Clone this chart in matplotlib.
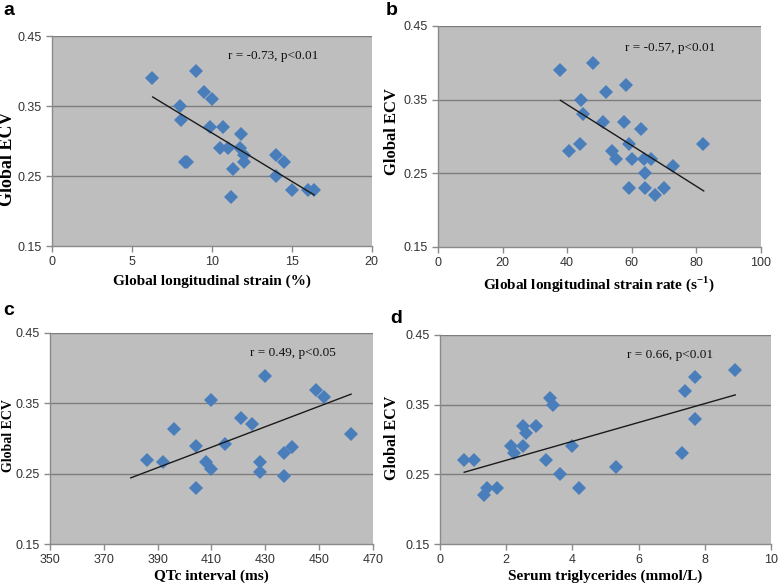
import numpy as np
import matplotlib
matplotlib.use("Agg")
import matplotlib.pyplot as plt

# panel a: global longitudinal strain (%)
gls = [6.25, 9.0, 9.5, 10.0, 8.0, 8.1, 9.9, 10.7, 11.8, 10.5, 11.0, 11.75, 12.0,
       12.0, 8.3, 8.45, 11.3, 14.0, 14.5, 14.0, 15.0, 16.0, 16.4, 11.2]
ecv_a = [0.39, 0.40, 0.37, 0.36, 0.35, 0.33, 0.32, 0.32, 0.31, 0.29, 0.29, 0.29, 0.28,
         0.27, 0.27, 0.27, 0.26, 0.28, 0.27, 0.25, 0.23, 0.23, 0.23, 0.22]
trend_a_x = [6.3, 16.4]
trend_a_y = [0.363, 0.223]

# panel b: global longitudinal strain rate (s-1)
glsr = [37.9, 48.1, 58.1, 52.1, 44.4, 44.9, 51.0, 57.5, 63.0, 44.1, 59.0, 82.1,
        40.6, 54.0, 55.2, 60.2, 63.9, 66.1, 72.9, 64.0, 59.2, 64.0, 70.0, 67.1]
ecv_b = [0.39, 0.40, 0.37, 0.36, 0.35, 0.33, 0.32, 0.32, 0.31, 0.29, 0.29, 0.29,
         0.28, 0.28, 0.27, 0.27, 0.27, 0.27, 0.26, 0.25, 0.23, 0.23, 0.23, 0.22]
trend_b_x = [37.9, 82.3]
trend_b_y = [0.349, 0.226]

# panel c: QTc interval (ms)
qtc = [386.1, 392.1, 396.1, 404.2, 404.2, 408.0, 410.0, 410.0, 415.1, 420.8,
       425.2, 430.0, 428.2, 428.2, 436.8, 436.9, 440.0, 449.0, 451.9, 461.8]
ecv_c = [0.270, 0.267, 0.314, 0.289, 0.230, 0.266, 0.257, 0.355, 0.292, 0.329,
         0.320, 0.389, 0.266, 0.253, 0.280, 0.247, 0.288, 0.369, 0.359, 0.307]
trend_c_x = [380.0, 461.9]
trend_c_y = [0.244, 0.363]

# panel d: serum triglycerides (mmol/L)
tg = [0.73, 1.04, 1.32, 1.41, 1.72, 2.13, 2.23, 2.51, 2.51, 2.61, 2.90, 3.31,
      3.41, 3.21, 3.62, 4.0, 4.21, 5.31, 7.31, 7.41, 7.70, 7.70, 8.92]
ecv_d = [0.27, 0.27, 0.22, 0.23, 0.23, 0.29, 0.28, 0.29, 0.32, 0.31, 0.32, 0.36,
         0.35, 0.27, 0.25, 0.29, 0.23, 0.26, 0.28, 0.37, 0.39, 0.33, 0.40]
trend_d_x = [0.73, 8.92]
trend_d_y = [0.253, 0.364]

panels = [
    dict(letter="a", x=gls, y=ecv_a, tx=trend_a_x, ty=trend_a_y, xlim=(0, 20), xstep=5,
         xlabel="Global longitudinal strain (%)", r="r = -0.73, p<0.01",
         rect=[0.0668, 0.5816, 0.411, 0.357], rpos=(0.55, 0.905), ysize=13, yweight="bold",
         ylab=(-0.1125, 0.414), xlab=-0.138, letpos=(0.004, 0.9745)),
    dict(letter="b", x=glsr, y=ecv_b, tx=trend_b_x, ty=trend_b_y, xlim=(0, 100), xstep=20,
         xlabel="Global longitudinal strain rate (s$^{\\mathregular{-1}}$)", r="r = -0.57, p<0.01",
         rect=[0.563, 0.580, 0.415, 0.376], rpos=(0.579, 0.90), ysize=12, yweight="bold",
         ylab=(-0.118, 0.52), xlab=-0.122, letpos=(0.496, 0.9745)),
    dict(letter="c", x=qtc, y=ecv_c, tx=trend_c_x, ty=trend_c_y, xlim=(350, 470), xstep=20,
         xlabel="QTc interval (ms)", r="r = 0.49, p<0.05",
         rect=[0.0643, 0.0748, 0.415, 0.359], rpos=(0.619, 0.905), ysize=10, yweight="semibold",
         ylab=(-0.108, 0.512), xlab=-0.123, letpos=(0.004, 0.4643)),
    dict(letter="d", x=tg, y=ecv_d, tx=trend_d_x, ty=trend_d_y, xlim=(0, 10), xstep=2,
         xlabel="Serum triglycerides (mmol/L)", r="r = 0.66, p<0.01",
         rect=[0.5656, 0.0748, 0.4254, 0.3555], rpos=(0.565, 0.905), ysize=11.5, yweight="bold",
         ylab=(-0.121, 0.51), xlab=-0.124, letpos=(0.501, 0.4507)),
]

fig = plt.figure(figsize=(7.78, 5.88), dpi=100)

for p in panels:
    ax = fig.add_axes(p["rect"])
    ax.set_facecolor("#bebebe")
    ax.set_xlim(*p["xlim"])
    ax.set_ylim(0.15, 0.45)
    ax.set_xticks(np.arange(p["xlim"][0], p["xlim"][1] + 1e-9, p["xstep"]))
    ax.set_yticks([0.15, 0.25, 0.35, 0.45])
    ax.set_yticklabels(["0.15", "0.25", "0.35", "0.45"])
    for yv in [0.25, 0.35, 0.45]:
        ax.axhline(yv, color="#7d7d7d", lw=1.0, zorder=1)
    for s in ["top", "right"]:
        ax.spines[s].set_visible(False)
    for s in ["left", "bottom"]:
        ax.spines[s].set_color("#8a8a8a")
        ax.spines[s].set_linewidth(1.0)
    ax.tick_params(direction="out", length=4, width=1, color="#8a8a8a",
                   labelsize=9, labelcolor="#333333")
    for lab in ax.get_xticklabels() + ax.get_yticklabels():
        lab.set_fontfamily("Liberation Sans")
    ax.plot(p["x"], p["y"], "D", color="#4a7ebb", markersize=7.5, markeredgewidth=0, zorder=3)
    ax.plot(p["tx"], p["ty"], color="#1a1a1a", lw=1.0, zorder=4)
    ax.text(p["rpos"][0], p["rpos"][1], p["r"], transform=ax.transAxes,
            fontfamily="Liberation Serif", fontsize=9.5, va="center", ha="left", color="#111111")
    ax.set_xlabel(p["xlabel"], fontfamily="Liberation Serif", fontweight="bold", fontsize=11)
    ax.xaxis.set_label_coords(0.5, p["xlab"])
    ax.set_ylabel("Global ECV", fontfamily="Liberation Serif", fontweight=p["yweight"],
                  fontsize=p["ysize"])
    ax.yaxis.set_label_coords(*p["ylab"])
    fig.text(p["letpos"][0], p["letpos"][1], p["letter"], fontfamily="Liberation Sans",
             fontweight="bold", fontsize=14, va="baseline", ha="left")

fig.savefig("out.png", dpi=100)
